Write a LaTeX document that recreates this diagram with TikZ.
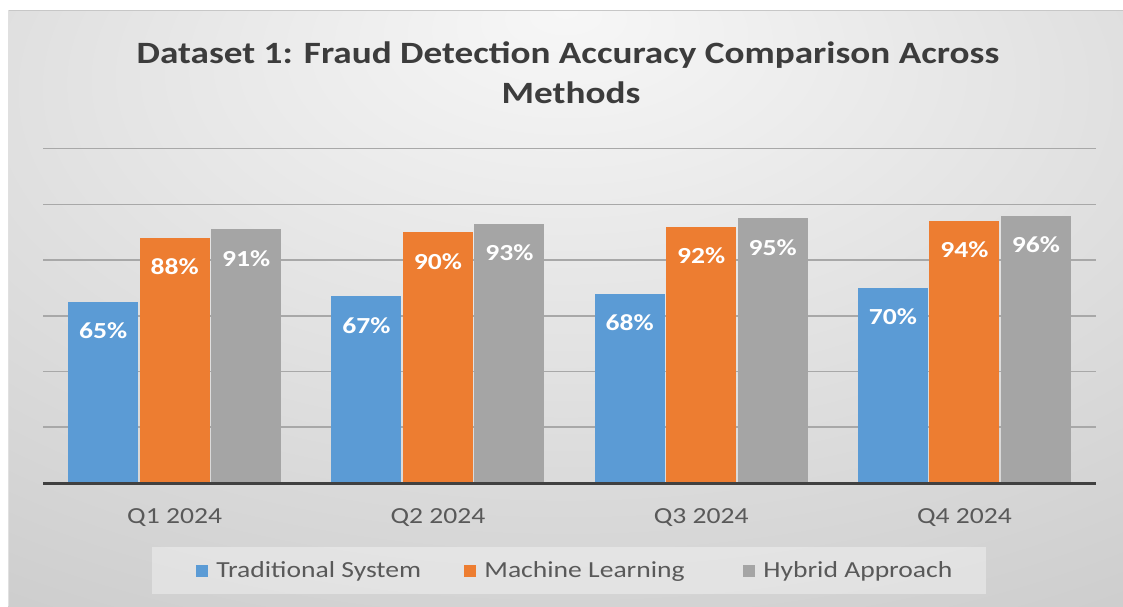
\documentclass[tikz,border=0pt]{standalone}
\usepackage{fontspec}
\setmainfont{Carlito}[FakeStretch=1.2]
\usetikzlibrary{positioning}

\definecolor{tsblue}{HTML}{5B9BD5}
\definecolor{mlorange}{HTML}{ED7D31}
\definecolor{hygray}{HTML}{A5A5A5}
\definecolor{inkgray}{HTML}{595959}
\definecolor{titlegray}{HTML}{3C3C3C}
\definecolor{bgin}{HTML}{F7F7F7}
\definecolor{bgout}{HTML}{CBCBCB}
\pgfdeclareradialshading{chartbg}{\pgfpoint{0bp}{25bp}}{color(0bp)=(bgin); color(48bp)=(bgout); color(90bp)=(bgout)}

\begin{document}
\begin{tikzpicture}[x=1pt, y=-1pt,
	bar/.style={anchor=south, minimum width=70pt, inner sep=0pt, outer sep=0pt},
	vallabel/.style={text=white, font=\fontsize{23}{27}\selectfont\bfseries},
	catlabel/.style={anchor=base, text=inkgray, font=\fontsize{23}{27}\selectfont},
	keybox/.style={minimum size=12pt, inner sep=0pt},
	keytext/.style={inner sep=0pt, text=inkgray, font=\fontsize{23}{27}\selectfont},
	titletext/.style={anchor=base, text=titlegray, font=\fontsize{31}{37}\selectfont\bfseries},
	gridline/.style={line width=1.6pt, color=black!34},
	axisline/.style={line width=3pt, color=black!75}]
	\useasboundingbox (0,0) rectangle (1123,606);
	\shade[shading=chartbg] (8,10) rectangle (1123,606);
	\draw[color=black!22, line width=1pt] (8,10.5) -- (1123,10.5);
	\draw[color=black!12, line width=1pt] (8.5,10) -- (8.5,606);

	% title
	\node[titletext] (title1) at (568,63) {Dataset 1: Fraud Detection Accuracy Comparison Across};
	\node[titletext] (title2) at (571,103) {Methods};

	% grid and axis
	\foreach \k in {1,...,6}
		\draw[gridline] (43,483-55.72*\k) -- (1096,483-55.72*\k);

	% bars
	\foreach \q/\a/\b/\c [count=\i] in {Q1 2024/65/88/91, Q2 2024/67/90/93, Q3 2024/68/92/95, Q4 2024/70/94/96} {
		\pgfmathsetmacro\cx{43+(\i-0.5)*263.25}
		\node[bar, fill=tsblue, minimum height=2.786*\a pt] (ts\i) at (\cx-71.5,483) {};
		\node[bar, fill=mlorange, minimum height=2.786*\b pt] (ml\i) at (\cx,483) {};
		\node[bar, fill=hygray, minimum height=2.786*\c pt] (hy\i) at (\cx+71.5,483) {};
		\node[vallabel] (tsv\i) at ([yshift=-29pt]ts\i.north) {\a\%};
		\node[vallabel] (mlv\i) at ([yshift=-29pt]ml\i.north) {\b\%};
		\node[vallabel] (hyv\i) at ([yshift=-29pt]hy\i.north) {\c\%};
		\node[catlabel] (cat\i) at (\cx,523) {\q};
	}
	\draw[axisline] (43,483) -- (1096,483);

	% legend
	\fill[white, opacity=0.35] (152,547) rectangle (986,594);
	\node[keybox, fill=tsblue] (tskey) at (202,571) {};
	\node[keytext, right=8pt of tskey] (tstext) {Traditional System};
	\node[keybox, fill=mlorange] (mlkey) at (470,571) {};
	\node[keytext, right=8pt of mlkey] (mltext) {Machine Learning};
	\node[keybox, fill=hygray] (hykey) at (749,571) {};
	\node[keytext, right=8pt of hykey] (hytext) {Hybrid Approach};
\end{tikzpicture}
\end{document}
